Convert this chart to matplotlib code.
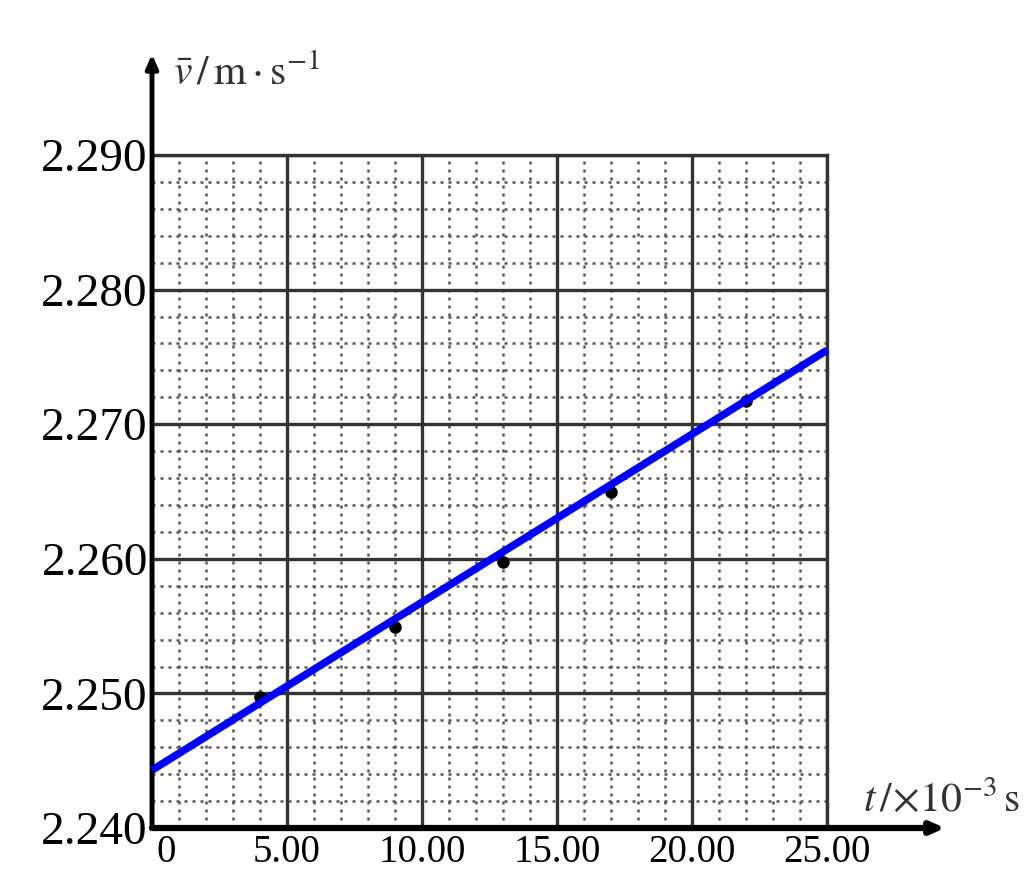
import matplotlib
matplotlib.use("Agg")
import matplotlib.pyplot as plt
from matplotlib.ticker import MultipleLocator
from matplotlib.transforms import ScaledTranslation

plt.rcParams['font.family'] = ['Liberation Serif', 'DejaVu Serif']
plt.rcParams['mathtext.fontset'] = 'stix'

# measured points (t in 10^-3 s, mean velocity in m/s)
t_vals = [4.0, 9.0, 13.0, 17.0, 22.0]
v_vals = [2.2497, 2.2549, 2.2598, 2.2650, 2.2717]

# fitted straight line, read at both ends of the grid
fit_t = [0.0, 25.0]
fit_v = [2.2443, 2.2755]

x_ticks = [0, 5, 10, 15, 20, 25]
x_labels = ['0', '5.00', '10.00', '15.00', '20.00', '25.00']
y_ticks = [2.240, 2.250, 2.260, 2.270, 2.280, 2.290]
y_labels = ['2.240', '2.250', '2.260', '2.270', '2.280', '2.290']

fig = plt.figure(figsize=(10.27, 8.75), dpi=100)
ax = fig.add_axes([0.148, 0.0537, 0.6573, 0.7691])

ax.set_xlim(0, 25)
ax.set_ylim(2.240, 2.290)

# minor (dotted) grid
ax.xaxis.set_minor_locator(MultipleLocator(1))
ax.yaxis.set_minor_locator(MultipleLocator(0.002))
ax.grid(which='minor', color='#555555', linestyle=(0, (1.2, 2.0)), linewidth=1.8)
ax.grid(which='major', color='#333333', linestyle='-', linewidth=2.4)
ax.set_axisbelow(True)

for s in ['top', 'right']:
    ax.spines[s].set_color('#333333')
    ax.spines[s].set_linewidth(2.4)
for s in ['left', 'bottom']:
    ax.spines[s].set_visible(False)

ax.set_xticks(x_ticks)
ax.set_xticklabels(x_labels, fontsize=28)
ax.set_yticks(y_ticks)
ax.set_yticklabels(y_labels, fontsize=34)
ax.tick_params(which='both', length=0)
ax.tick_params(axis='x', pad=4)
ax.tick_params(axis='y', pad=3)

# the "0" sits just right of the origin so it clears 2.240
zero_lab = ax.get_xticklabels()[0]
zero_lab.set_transform(zero_lab.get_transform() + ScaledTranslation(10 / 72, 0, fig.dpi_scale_trans))

# axis arrows
ax.annotate('', xy=(0, 1.15), xytext=(0, 0), xycoords='axes fraction',
            arrowprops=dict(arrowstyle='-|>,head_width=0.35,head_length=0.8',
                            color='black', lw=3.5, shrinkA=0, shrinkB=0))
ax.annotate('', xy=(1.175, 0), xytext=(0, 0), xycoords='axes fraction',
            arrowprops=dict(arrowstyle='-|>,head_width=0.35,head_length=0.8',
                            color='black', lw=4.5, shrinkA=0, shrinkB=0))

ax.plot(fit_t, fit_v, color='#0000ff', linewidth=5.5, solid_capstyle='butt',
        zorder=4, clip_on=False)
ax.plot(t_vals, v_vals, 'o', color='black', markersize=8, zorder=3)

fig.text(0.168, 0.915, r'$\bar{v}\,/\,\mathrm{m\cdot s^{-1}}$', fontsize=30,
         ha='left', va='center', color='#333333')
fig.text(0.84, 0.085, r'$t\,/\!\times\!10^{-3}\,\mathrm{s}$', fontsize=30,
         ha='left', va='center', color='#333333')

fig.savefig('out.png', dpi=100)
